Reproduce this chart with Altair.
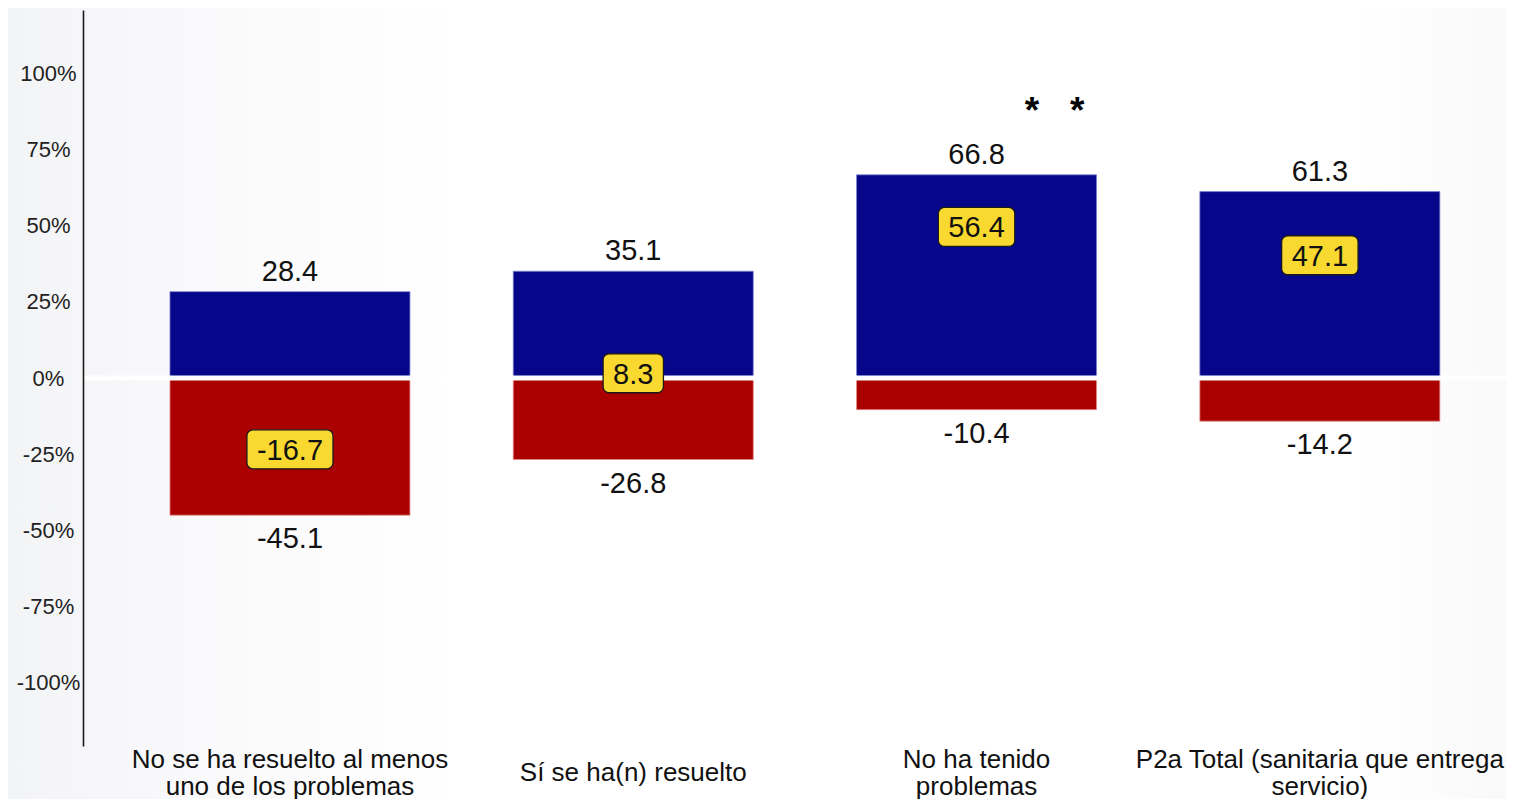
import altair as alt
import pandas as pd

categories = [
    "No se ha resuelto al menos\nuno de los problemas",
    "Sí se ha(n) resuelto",
    "No ha tenido\nproblemas",
    "P2a Total (sanitaria que entrega\nservicio)",
]
pos_vals = [28.4, 35.1, 66.8, 61.3]
neg_vals = [-45.1, -26.8, -10.4, -14.2]
net_vals = [-16.7, 8.3, 56.4, 47.1]
sig_marks = ["", "", "*\u00a0\u00a0\u00a0*", ""]
y_ticks = [-100, -75, -50, -25, 0, 25, 50, 75, 100]

df = pd.DataFrame({
    "cat": categories,
    "pos": pos_vals,
    "neg": neg_vals,
    "net": net_vals,
    "sig": sig_marks,
})

W, H = 1423, 736
FONT = "Liberation Sans"
BLUE = "#05068a"
RED = "#ab0000"
YELLOW = "#f9d92f"

x_enc = alt.X(
    "cat:N",
    sort=categories,
    scale=alt.Scale(paddingInner=0.3009, paddingOuter=0.2230, align=0.568),
    axis=alt.Axis(
        title=None, domain=False, ticks=False, labels=False, zindex=1,
    ),
)
y_scale = alt.Scale(domain=[-121, 121], nice=False)
y_axis = alt.Axis(
    title=None, values=y_ticks, labelExpr="datum.value + '%'",
    ticks=False, tickSize=0, grid=False, domain=True,
    domainColor="#1a1a1a", domainWidth=1.6,
    labelFont=FONT, labelFontSize=22, labelAlign="center",
    labelPadding=35, labelColor="#222222", zindex=1,
)

base = alt.Chart(df).transform_calculate(
    pos_l="replace(format(datum.pos, '.1f'), '\u2212', '-')",
    neg_l="replace(format(datum.neg, '.1f'), '\u2212', '-')",
    net_l="replace(format(datum.net, '.1f'), '\u2212', '-')",
    nl="length(split(datum.cat, '\\n'))",
)

bg = alt.Chart(pd.DataFrame({"k": [0]})).mark_rect(
    color=alt.Gradient(
        gradient="linear", x1=0, x2=1, y1=0, y2=0,
        stops=[
            alt.GradientStop(offset=0, color="#f3f4f6"),
            alt.GradientStop(offset=0.12, color="#f9f9fb"),
            alt.GradientStop(offset=0.3, color="#ffffff"),
            alt.GradientStop(offset=0.9, color="#ffffff"),
            alt.GradientStop(offset=1, color="#f9f9fa"),
        ],
    )
).encode(
    x=alt.value(-75), x2=alt.value(W), y=alt.value(-2), y2=alt.value(H + 53)
)

blue = base.mark_bar(color=BLUE, stroke="#7f82d2", strokeWidth=0.8).encode(
    x=x_enc, y=alt.Y("pos:Q", scale=y_scale, axis=y_axis), y2=alt.datum(0)
)
red = base.mark_bar(color=RED, stroke="#e58a8a", strokeWidth=0.8).encode(
    x=x_enc, y=alt.Y("neg:Q"), y2=alt.datum(0)
)
zero = alt.Chart(pd.DataFrame({"z": [0]})).mark_rule(
    color="#ffffff", strokeWidth=5
).encode(y=alt.Y("z:Q"), x=alt.value(0), x2=alt.value(W))

top_txt = base.mark_text(
    font=FONT, fontSize=29, baseline="alphabetic", dy=-11, color="#111111"
).encode(x=x_enc, y=alt.Y("pos:Q"), text="pos_l:N")
bot_txt = base.mark_text(
    font=FONT, fontSize=29, baseline="alphabetic", dy=33, color="#111111"
).encode(x=x_enc, y=alt.Y("neg:Q"), text="neg_l:N")

box = base.transform_calculate(
    bw="29*(0.556*length(datum.net_l) - 0.278 - (datum.net < 0 ? 0.223 : 0)) + 20"
).mark_bar(
    fill=YELLOW, stroke="#1a1a1a", strokeWidth=1.3, cornerRadius=6,
    width={"expr": "datum.bw"}, yOffset=1, y2Offset=40,
).encode(x=x_enc, y=alt.Y("net:Q"), y2="net:Q")
box_txt = base.mark_text(
    font=FONT, fontSize=29, baseline="alphabetic", dy=31, color="#111111"
).encode(x=x_enc, y=alt.Y("net:Q"), text="net_l:N")

sig = base.mark_text(
    font=FONT, fontSize=37, fontWeight="bold", baseline="alphabetic",
    dx=78, dy=-52, color="#000000",
).encode(x=x_enc, y=alt.Y("pos:Q"), text="sig:N")

xlab = base.mark_text(
    font=FONT, fontSize=26, lineBreak="\n", lineHeight=27,
    baseline="middle", color="#111111",
    dy={"expr": "datum.nl > 1 ? -13.5 : 0"},
).encode(x=x_enc, y=alt.value(H + 27), text="cat:N")

chart = alt.layer(
    bg, blue, red, zero, top_txt, bot_txt, box, box_txt, sig, xlab
).properties(
    width=W, height=H,
    autosize=alt.AutoSizeParams(type="none"),
    padding={"left": 75, "top": 2, "right": 0, "bottom": 53},
    background="#f5f6f8",
).configure_view(stroke=None)

chart.save("out.html", embed_options={"renderer": "svg", "actions": False})
